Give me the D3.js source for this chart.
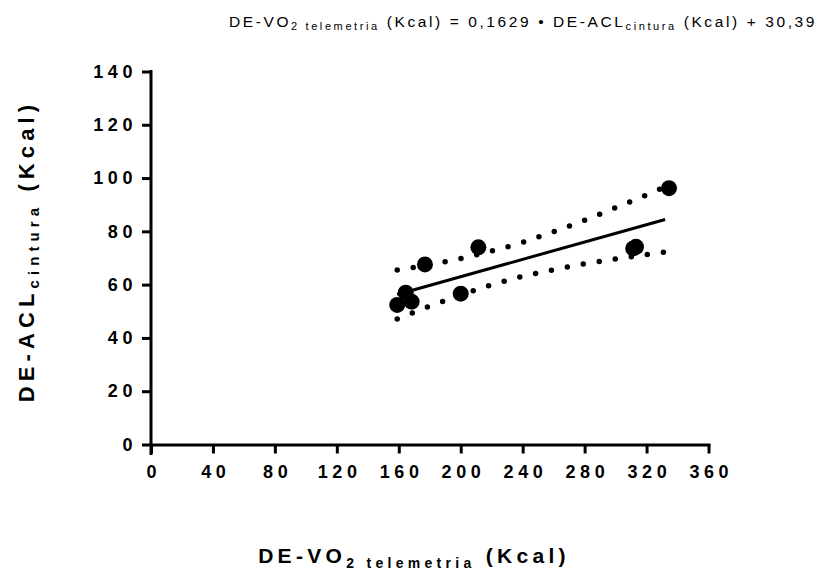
<!DOCTYPE html>
<html><head><meta charset="utf-8">
<script src="https://cdn.jsdelivr.net/npm/d3@7"></script>
<style>
html,body{margin:0;padding:0;background:#fff;}
svg{display:block;font-family:"Liberation Sans",Arial,sans-serif;}
</style></head>
<body>
<script>
// Data
const pointsX = [159.0, 164.5, 168.3, 176.9, 200.0, 211.4, 311.4, 313.2, 334.5];
const pointsY = [52.4, 57.0, 53.6, 67.6, 56.6, 74.0, 73.6, 74.2, 96.2];
const slope = 0.1629, intercept = 30.39;
const lineX = [159, 332];
const bandX = [159, 180, 200, 220, 240, 260, 280, 300, 320, 332];
const bandUpper = [65.5, 67.5, 69.8, 72.6, 75.9, 79.9, 84.2, 88.9, 93.7, 96.7];
const bandLower = [47.1, 51.9, 56.1, 59.9, 63.1, 65.6, 67.8, 69.6, 71.3, 72.3];
const xTicks = [0, 40, 80, 120, 160, 200, 240, 280, 320, 360];
const yTicks = [0, 20, 40, 60, 80, 100, 120, 140];

const W = 828, H = 575;
const svg = d3.select("body").append("svg").attr("width", W).attr("height", H);

const x = d3.scaleLinear().domain([0, 360]).range([151, 708.5]);
const y = d3.scaleLinear().domain([0, 140]).range([444.5, 71.5]);

// Axes
const xAxis = d3.axisBottom(x).tickValues(xTicks).tickSize(9).tickSizeOuter(0).tickPadding(12);
const gx = svg.append("g").attr("transform", `translate(0,${y(0)})`).call(xAxis);
const yAxis = d3.axisLeft(y).tickValues(yTicks).tickSize(9).tickSizeOuter(0).tickPadding(8);
const gy = svg.append("g").attr("transform", `translate(${x(0)},0)`).call(yAxis);
[gx, gy].forEach(g => {
  g.select(".domain").attr("stroke", "#000").attr("stroke-width", 3).attr("stroke-linecap", "square");
  g.selectAll(".tick line").attr("stroke", "#000").attr("stroke-width", 3);
  g.selectAll(".tick text").attr("fill", "#000").attr("font-size", 18).attr("font-weight", "bold")
    .attr("letter-spacing", 4.6).attr("font-family", "Liberation Sans, Arial, sans-serif");
});
// y axis extends below x axis
gy.select(".domain").attr("d", `M0,${y(140)}V${y(0) + 9}`);
gx.selectAll(".tick text").attr("dx", 2.3);
gy.selectAll(".tick text").attr("dx", 3);

// Confidence bands (dotted)
const bandLine = d3.line().x(d => x(d[0])).y(d => y(d[1])).curve(d3.curveMonotoneX);
[bandUpper, bandLower].forEach(arr => {
  svg.append("path").datum(bandX.map((v, i) => [v, arr[i]]))
    .attr("d", bandLine).attr("fill", "none").attr("stroke", "#000")
    .attr("stroke-width", 5.5).attr("stroke-linecap", "round").attr("stroke-dasharray", "0,16.2");
});

// Regression line
svg.append("line")
  .attr("x1", x(lineX[0])).attr("y1", y(slope * lineX[0] + intercept))
  .attr("x2", x(lineX[1])).attr("y2", y(slope * lineX[1] + intercept))
  .attr("stroke", "#000").attr("stroke-width", 3);

// Points
svg.append("g").selectAll("circle").data(pointsX).join("circle")
  .attr("cx", d => x(d)).attr("cy", (d, i) => y(pointsY[i])).attr("r", 8).attr("fill", "#000");

// Title
const title = svg.append("text").attr("x", 523).attr("y", 27).attr("text-anchor", "middle")
  .attr("font-size", 15.5).attr("letter-spacing", 2.6).attr("fill", "#000");
title.append("tspan").text("DE-VO");
title.append("tspan").attr("font-size", 11).attr("dy", 3).text("2 telemetria");
title.append("tspan").attr("dy", -3).text(" (Kcal) = 0,1629 • DE-ACL");
title.append("tspan").attr("font-size", 11).attr("dy", 3).text("cintura");
title.append("tspan").attr("dy", -3).text(" (Kcal) + 30,39");

// X axis label
const xl = svg.append("text").attr("x", 414).attr("y", 563).attr("text-anchor", "middle")
  .attr("font-size", 21).attr("font-weight", "bold").attr("letter-spacing", 4.3).attr("fill", "#000");
xl.append("tspan").text("DE-VO");
xl.append("tspan").attr("font-size", 14).attr("dy", 5).text("2 telemetria");
xl.append("tspan").attr("dy", -5).text(" (Kcal)");

// Y axis label
const yl = svg.append("text").attr("transform", "translate(34,251) rotate(-90)").attr("text-anchor", "middle")
  .attr("font-size", 22).attr("font-weight", "bold").attr("letter-spacing", 5.1).attr("fill", "#000");
yl.append("tspan").text("DE-ACL");
yl.append("tspan").attr("font-size", 15).attr("dy", 5).text("cintura");
yl.append("tspan").attr("dy", -5).text(" (Kcal)");
</script>
</body></html>
